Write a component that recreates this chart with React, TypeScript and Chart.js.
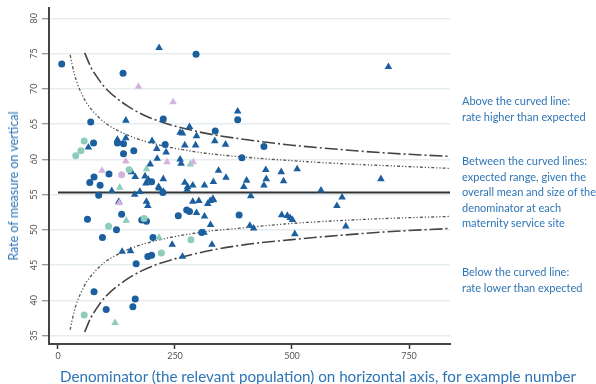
import React, { useEffect, useRef } from "react";
import { Chart, registerables } from "chart.js";

Chart.register(...registerables);

// ---- Data ----
const meanRate = 55.3;
const xTicks = [0, 250, 500, 750];
const yTicks = [35, 40, 45, 50, 55, 60, 65, 70, 75, 80];

// 99.8% (outer) control limits
const outerN = [57, 70, 80, 100, 150, 200, 300, 400, 500, 600, 700, 840];
const outerUpper = [75.1, 73.1, 72.0, 70.2, 67.5, 65.8, 63.9, 62.8, 62.0, 61.4, 60.9, 60.4];
const outerLower = [35.5, 37.5, 38.6, 40.4, 43.1, 44.8, 46.7, 47.9, 48.6, 49.2, 49.7, 50.2];
// 95% (inner) control limits
const innerN = [26, 30, 35, 42, 50, 60, 75, 100, 150, 200, 300, 400, 500, 600, 700, 840];
const innerUpper = [74.8, 73.5, 72.1, 70.6, 69.4, 68.1, 66.8, 65.2, 63.4, 62.3, 61.0, 60.3, 59.8, 59.4, 59.1, 58.7];
const innerLower = [35.8, 37.1, 38.5, 40.0, 41.2, 42.5, 43.8, 45.4, 47.2, 48.3, 49.6, 50.3, 50.9, 51.3, 51.6, 51.9];

const darkCircles: [number, number][] = [
  [8, 73.5], [139, 72.2], [295, 74.9], [70, 65.3], [225, 65.7], [384, 65.6], [336, 64.0],
  [76, 62.3], [127, 62.3], [140, 62.2], [140, 60.8], [162, 61.2], [229, 62.1], [393, 60.2], [440, 61.8],
  [77, 57.5], [68, 56.7], [90, 56.3], [109, 57.9], [200, 56.8], [87, 54.9], [224, 55.3],
  [136, 52.2], [63, 51.5], [125, 50.0], [95, 48.9], [179, 51.4], [189, 51.2], [257, 52.0], [387, 52.1],
  [275, 52.8], [281, 52.6], [307, 49.6], [203, 48.9], [192, 46.2], [200, 46.4], [167, 45.2],
  [77, 41.2], [103, 38.7], [165, 40.2], [160, 39.1],
];

const darkTriangles: [number, number][] = [
  [216, 75.8], [706, 73.1], [145, 65.5], [384, 66.8], [281, 64.6], [261, 63.8], [266, 63.7], [296, 63.3],
  [65, 61.7], [127, 62.8], [145, 63.0], [201, 62.6], [211, 61.5], [231, 61.0], [271, 62.0], [294, 62.0],
  [335, 62.6], [358, 62.1], [197, 59.3], [261, 60.0], [263, 59.4], [212, 60.1],
  [157, 58.2], [165, 57.5], [186, 57.6], [193, 57.1], [188, 56.6], [225, 57.2], [215, 56.1], [175, 55.4],
  [164, 55.0], [115, 55.5], [216, 55.9], [225, 55.4],
  [343, 58.4], [359, 57.4], [271, 56.7], [277, 56.1], [288, 56.3], [313, 56.3], [332, 56.8], [403, 57.0],
  [397, 56.1], [444, 58.5], [445, 57.2], [440, 56.3], [477, 58.2], [482, 56.9], [511, 58.6], [412, 54.8],
  [276, 55.7], [331, 54.4], [690, 57.2], [562, 55.6], [607, 54.6], [596, 53.4], [615, 50.5],
  [189, 54.0], [192, 53.4], [288, 54.0], [301, 54.1], [296, 52.4], [313, 51.9], [320, 53.7], [325, 54.1],
  [332, 54.2], [326, 50.7], [312, 49.6], [329, 47.9], [410, 50.6], [418, 50.2], [478, 52.1], [490, 52.0],
  [496, 51.7], [501, 51.4], [506, 49.4], [137, 46.9], [155, 47.0], [244, 47.9], [266, 46.2], [130, 54.0],
];

const tealCircles: [number, number][] = [
  [56, 62.6], [49, 61.2], [38, 60.5], [152, 58.5], [108, 50.5], [184, 51.6], [221, 46.7], [284, 48.6], [56, 37.9],
];
const tealTriangles: [number, number][] = [
  [189, 58.6], [283, 59.3], [132, 56.0], [146, 51.3], [216, 48.9], [122, 36.8],
];
const lavenderTriangles: [number, number][] = [
  [172, 70.3], [246, 68.1], [145, 59.7], [233, 59.6], [289, 59.6], [94, 58.4], [131, 53.8],
];
const lavenderCircles: [number, number][] = [[136, 57.8]];

const xTitle = "Denominator (the relevant population) on horizontal axis, for example number";
const yTitle = "Rate of measure on vertical";
const noteAbove = ["Above the curved line:", "rate higher than expected"];
const noteBetween = [
  "Between the curved lines:",
  "expected range, given the",
  "overall mean and size of the",
  "denominator at each",
  "maternity service site",
];
const noteBelow = ["Below the curved line:", "rate lower than expected"];

// ---- Styling ----
const DARK = "#1b5f9e";
const TEAL = "#8ccdbd";
const LAV = "#d5b3dd";
const TEXT_BLUE = "#2e75b6";
const FONT = "Lato, 'Open Sans', sans-serif";

const pts = (arr: [number, number][]) => arr.map(([x, y]) => ({ x, y }));
const curve = (ns: number[], vs: number[]) => ns.map((n, i) => ({ x: n, y: vs[i] }));

export default function App() {
  const ref = useRef<HTMLCanvasElement | null>(null);

  useEffect(() => {
    if (!ref.current) return;
    const markerSet = (data: [number, number][], color: string, style: string) => ({
      data: pts(data),
      pointStyle: style,
      pointRadius: style === "triangle" ? 4.4 : 3.5,
      pointBackgroundColor: color,
      pointBorderColor: color,
      pointBorderWidth: 0,
      showLine: false,
    });
    const lineSet = (data: { x: number; y: number }[], color: string, width: number, dash: number[]) => ({
      data,
      showLine: true,
      borderColor: color,
      borderWidth: width,
      borderDash: dash,
      pointRadius: 0,
      cubicInterpolationMode: "monotone" as const,
      fill: false,
    });

    const chart = new Chart(ref.current, {
      type: "scatter",
      data: {
        datasets: [
          markerSet(lavenderCircles, LAV, "circle"),
          markerSet(lavenderTriangles, LAV, "triangle"),
          markerSet(tealTriangles, TEAL, "triangle"),
          markerSet(tealCircles, TEAL, "circle"),
          markerSet(darkTriangles, DARK, "triangle"),
          markerSet(darkCircles, DARK, "circle"),
          lineSet(curve(outerN, outerUpper), "#444", 1.6, [13, 3, 2, 3]),
          lineSet(curve(outerN, outerLower), "#444", 1.6, [13, 3, 2, 3]),
          lineSet(curve(innerN, innerUpper), "#555", 1.3, [3, 2, 1.2, 2, 1.2, 2]),
          lineSet(curve(innerN, innerLower), "#555", 1.3, [3, 2, 1.2, 2, 1.2, 2]),
          lineSet([{ x: 0, y: meanRate }, { x: 840, y: meanRate }], "#333", 2, []),
        ] as any,
      },
      options: {
        responsive: false,
        animation: false,
        layout: { padding: { left: 0, top: 8, right: 146, bottom: 0 } },
        plugins: { legend: { display: false }, tooltip: { enabled: false } },
        scales: {
          x: {
            type: "linear",
            min: -19.2,
            max: 837.6,
            afterBuildTicks: (s: any) => { s.ticks = xTicks.map((v) => ({ value: v })); },
            afterFit: (s: any) => { s.height = 40; },
            border: { display: true, color: "#444", width: 2 },
            grid: { drawOnChartArea: false, drawTicks: true, tickLength: 5, tickColor: "#333", tickWidth: 1.5 },
            ticks: { color: "#555", font: { size: 9, family: FONT }, padding: 2, maxRotation: 0 },
          },
          y: {
            type: "linear",
            min: 33.8,
            max: 81.4,
            afterBuildTicks: (s: any) => { s.ticks = yTicks.map((v) => ({ value: v })); },
            afterFit: (s: any) => { s.width = 49; },
            border: { display: true, color: "#444", width: 2 },
            grid: { color: "#e5edf0", lineWidth: 1.5, drawTicks: true, tickLength: 7, tickColor: "#777", tickWidth: 1 },
            ticks: {
              color: "#555",
              font: { size: 9, family: FONT },
              padding: 3,
              minRotation: 90,
              maxRotation: 90,
              crossAlign: "center",
            },
          },
        },
      },
    });
    return () => chart.destroy();
  }, []);

  const textBase: React.CSSProperties = {
    position: "absolute",
    color: TEXT_BLUE,
    fontFamily: FONT,
    whiteSpace: "nowrap",
  };
  const note = (lines: string[], top: number) => (
    <div style={{ ...textBase, left: 462, top, fontSize: 11, lineHeight: "15.6px" }}>
      {lines.map((l, i) => (
        <div key={i}>{l}</div>
      ))}
    </div>
  );

  return (
    <div style={{ position: "absolute", left: 0, top: 0, width: 596, height: 384, background: "#fff", overflow: "hidden" }}>
      <canvas ref={ref} width={596} height={384} style={{ position: "absolute", left: 0, top: 0, width: 596, height: 384 }} />
      <div
        style={{
          ...textBase,
          fontSize: 12.5,
          lineHeight: "14px",
          left: 14,
          top: 186,
          transform: "translate(-50%, -50%) rotate(-90deg)",
        }}
      >
        {yTitle}
      </div>
      <div style={{ ...textBase, fontSize: 15.2, lineHeight: "18px", left: 60, top: 367 }}>{xTitle}</div>
      {note(noteAbove, 93)}
      {note(noteBetween, 153)}
      {note(noteBelow, 264)}
    </div>
  );
}
